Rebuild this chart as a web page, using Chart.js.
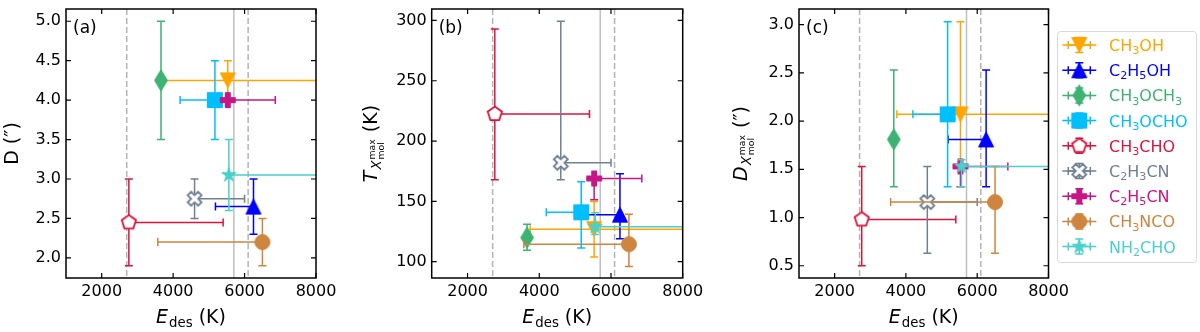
<!DOCTYPE html>
<html lang="en">
<head>
<meta charset="UTF-8">
<title>Desorption energy panels</title>
<script src="https://cdn.jsdelivr.net/npm/chart.js"></script>
<style>
  html, body { margin: 0; padding: 0; background: #fff; }
  #wrap { position: relative; width: 1200px; height: 332px; overflow: hidden; }
  .panel { position: absolute; top: 0; height: 332px; }
</style>
</head>
<body>
<div id="wrap">
  <div class="panel" style="left:0;width:340px"><canvas id="chartA"></canvas></div>
  <div class="panel" style="left:345px;width:365px"><canvas id="chartB"></canvas></div>
  <div class="panel" style="left:715px;width:485px"><canvas id="chartC"></canvas></div>
</div>
<script>
// molecules in plotting order ("_" = next char is a subscript)
const molecules = ['CH_3OH', 'C_2H_5OH', 'CH_3OCH_3', 'CH_3OCHO', 'CH_3CHO', 'C_2H_3CN', 'C_2H_5CN', 'CH_3NCO', 'NH_2CHO'];
const colors = ['#FFA500', '#0000FF', '#3CB371', '#00BFFF', '#DC143C', '#708090', '#C71585', '#CD853F', '#48D1CC'];
const markers = ['v', '^', 'd', 's', 'p', 'X', 'P', 'o', '*'];

// desorption energy (K) with lower / upper ends of its range
const edes = [5530, 6250, 3660, 5170, 2760, 4600, 5530, 6500, 5560];
const edesLow = [3745, 5185, 3660, 4195, 2760, 4600, 5530, 3570, 5560];
const edesHigh = [10000, 6250, 3660, 5170, 5400, 6000, 6860, 6500, 10000];

// (a) emission size D (arcsec)
const sizeD = [4.25, 2.65, 4.25, 4.0, 2.45, 2.75, 4.0, 2.2, 3.05];
const sizeDLow = [4.0, 2.3, 3.5, 3.5, 1.9, 2.5, 4.0, 1.9, 2.6];
const sizeDHigh = [4.5, 3.0, 5.0, 4.5, 3.0, 3.0, 4.0, 2.5, 3.5];

// (b) temperature at abundance peak (K)
const tempMax = [127, 139, 120, 141, 222.5, 182, 169, 114.5, 129];
const tempMaxLow = [104, 119, 109.5, 111.3, 168, 168, 151.4, 96, 122.5];
const tempMaxHigh = [150, 173, 131, 166.2, 293, 299.4, 169, 139.4, 140.5];

// (c) radius at abundance peak (arcsec)
const sizeMax = [2.07, 1.81, 1.81, 2.07, 0.98, 1.16, 1.53, 1.16, 1.53];
const sizeMaxLow = [1.53, 1.32, 1.32, 1.32, 0.5, 0.63, 1.32, 0.63, 1.32];
const sizeMaxHigh = [3.03, 2.53, 2.53, 3.03, 1.53, 1.53, 1.53, 1.53, 1.6];

// ticks and reference lines
const xTicks = [2000, 4000, 6000, 8000];
const yTicksA = [2.0, 2.5, 3.0, 3.5, 4.0, 4.5, 5.0];
const yTicksB = [100, 150, 200, 250, 300];
const yTicksC = [0.5, 1.0, 1.5, 2.0, 2.5, 3.0];
const refDashed = [2700, 6100];
const refSolid = [5700];

const FONT = "'DejaVu Sans', sans-serif";
Chart.defaults.font.family = FONT;
Chart.defaults.font.size = 16;
Chart.defaults.color = '#000';

function fontStr(size, italic) {
    return (italic ? 'italic ' : '') + size + 'px ' + FONT;
}

// split "CH_3OH" into text runs
function parseName(s) {
    const segs = [];
    for (let i = 0; i < s.length; i++) {
        if (s[i] === '_') { segs.push({ t: s[i + 1], sub: true }); i++; }
        else if (segs.length && !segs[segs.length - 1].sub) segs[segs.length - 1].t += s[i];
        else segs.push({ t: s[i] });
    }
    return segs;
}

function segSize(seg, size) {
    return seg.sub ? size * 0.7 : size * (seg.scale || 1);
}

function segWidth(ctx, seg, size) {
    if (seg.stack) {
        ctx.font = fontStr(size * seg.scale);
        return Math.max(...seg.stack.map(t => ctx.measureText(t).width)) + 1;
    }
    ctx.font = fontStr(segSize(seg, size), seg.it);
    return ctx.measureText(seg.t).width + (seg.it ? 1 : 0);
}

// draws text runs on a baseline at (x, y)
function drawRich(ctx, segs, x, y, size, align) {
    const widths = segs.map(s => segWidth(ctx, s, size));
    const total = widths.reduce((a, b) => a + b, 0);
    let cx = align === 'center' ? x - total / 2 : x;
    ctx.textAlign = 'left';
    ctx.textBaseline = 'alphabetic';
    segs.forEach((s, k) => {
        if (s.stack) {
            ctx.font = fontStr(size * s.scale);
            ctx.fillText(s.stack[0], cx, y + s.dy[0] * size);
            ctx.fillText(s.stack[1], cx, y + s.dy[1] * size);
        } else {
            ctx.font = fontStr(segSize(s, size), s.it);
            ctx.fillText(s.t, cx, y + (s.sub ? 0.2 * size : (s.dy || 0) * size));
        }
        cx += widths[k];
    });
}

// marker images (matplotlib-like shapes)
function makeMarker(type, color) {
    const S = 15;
    const h = S / 2;
    const c = document.createElement('canvas');
    c.width = 20;
    c.height = type === 'd' ? 26 : 20;
    const g = c.getContext('2d');
    g.translate(c.width / 2, c.height / 2);
    let pts = null;
    switch (type) {
        case 'v': pts = [[-h, -h], [h, -h], [0, h]]; break;
        case '^': pts = [[-h, h], [h, h], [0, -h]]; break;
        case 'd': pts = [[0, -10.6], [6.4, 0], [0, 10.6], [-6.4, 0]]; break;
        case 's': pts = [[-h, -h], [h, -h], [h, h], [-h, h]]; break;
        case 'p':
            pts = [];
            for (let k = 0; k < 5; k++) {
                const a = -Math.PI / 2 + k * 2 * Math.PI / 5;
                pts.push([h * Math.cos(a), h * Math.sin(a)]);
            }
            break;
        case 'X':
            pts = [[0.25, 0], [0.5, 0.25], [0.75, 0], [1, 0.25], [0.75, 0.5], [1, 0.75], [0.75, 1],
                   [0.5, 0.75], [0.25, 1], [0, 0.75], [0.25, 0.5], [0, 0.25]]
                .map(p => [(p[0] - 0.5) * 14, (p[1] - 0.5) * 14]);
            break;
        case 'P':
            pts = [[-1, -3], [1, -3], [1, -1], [3, -1], [3, 1], [1, 1], [1, 3], [-1, 3], [-1, 1], [-3, 1], [-3, -1], [-1, -1]]
                .map(p => [p[0] / 6 * S, p[1] / 6 * S]);
            break;
        case '*':
            pts = [];
            for (let k = 0; k < 10; k++) {
                const a = -Math.PI / 2 + k * Math.PI / 5;
                const r = k % 2 ? h * 0.381966 : h;
                pts.push([r * Math.cos(a), r * Math.sin(a)]);
            }
            break;
    }
    g.beginPath();
    if (type === 'o') g.arc(0, 0, h, 0, Math.PI * 2);
    else { pts.forEach((p, k) => k ? g.lineTo(p[0], p[1]) : g.moveTo(p[0], p[1])); g.closePath(); }
    const open = type === 'p' || type === 'X';
    g.fillStyle = open ? '#fff' : color;
    g.fill();
    g.strokeStyle = color;
    g.lineWidth = open ? 1.8 : 1;
    g.lineJoin = 'miter';
    g.stroke();
    return c;
}

const markerImgs = markers.map((m, i) => makeMarker(m, colors[i]));

function strokeErrors(ctx, px, py, pxl, pxh, pyl, pyh, cap) {
    ctx.beginPath();
    if (pxh - pxl > 0.5) { ctx.moveTo(pxl, py); ctx.lineTo(pxh, py); }
    if (pyl - pyh > 0.5) { ctx.moveTo(px, pyl); ctx.lineTo(px, pyh); }
    [pxl, pxh].forEach(p => { if (Math.abs(p - px) > 0.5) { ctx.moveTo(p, py - cap); ctx.lineTo(p, py + cap); } });
    [pyl, pyh].forEach(p => { if (Math.abs(p - py) > 0.5) { ctx.moveTo(px - cap, p); ctx.lineTo(px + cap, p); } });
    ctx.stroke();
}

function panelPlugin(cfg) {
    return {
        id: 'panel' + cfg.tag,
        beforeDatasetsDraw(chart) {
            const { ctx, chartArea: a, scales: { x } } = chart;
            ctx.save();
            ctx.beginPath();
            ctx.rect(a.left, a.top, a.right - a.left, a.bottom - a.top);
            ctx.clip();
            ctx.lineWidth = 1.5;
            refSolid.forEach(v => {
                const p = x.getPixelForValue(v);
                ctx.strokeStyle = '#bfbfbf';
                ctx.setLineDash([]);
                ctx.beginPath(); ctx.moveTo(p, a.top); ctx.lineTo(p, a.bottom); ctx.stroke();
            });
            refDashed.forEach(v => {
                const p = x.getPixelForValue(v);
                ctx.strokeStyle = '#b4b4b4';
                ctx.setLineDash([6, 3]);
                ctx.beginPath(); ctx.moveTo(p, a.top); ctx.lineTo(p, a.bottom); ctx.stroke();
            });
            ctx.restore();
        },
        beforeDatasetDraw(chart, args) {
            const { ctx, chartArea: a, scales: { x, y } } = chart;
            const ds = chart.data.datasets[args.index];
            const pt = ds.data[0];
            ctx.save();
            ctx.beginPath();
            ctx.rect(a.left, a.top, a.right - a.left, a.bottom - a.top);
            ctx.clip();
            ctx.strokeStyle = ds.errColor;
            ctx.lineWidth = 1.5;
            strokeErrors(ctx, x.getPixelForValue(pt.x), y.getPixelForValue(pt.y),
                x.getPixelForValue(ds.errX[0]), x.getPixelForValue(ds.errX[1]),
                y.getPixelForValue(ds.errY[0]), y.getPixelForValue(ds.errY[1]), 4);
            ctx.restore();
        },
        afterDraw(chart) {
            const { ctx, chartArea: a, scales: { x, y } } = chart;
            ctx.save();
            // frame and inward ticks on all four sides
            ctx.strokeStyle = '#000';
            ctx.lineWidth = 1.5;
            ctx.strokeRect(a.left, a.top, a.right - a.left, a.bottom - a.top);
            ctx.lineWidth = 1.2;
            ctx.beginPath();
            xTicks.forEach(v => {
                const p = x.getPixelForValue(v);
                ctx.moveTo(p, a.bottom); ctx.lineTo(p, a.bottom - 5);
                ctx.moveTo(p, a.top); ctx.lineTo(p, a.top + 5);
            });
            cfg.yTicks.forEach(v => {
                const p = y.getPixelForValue(v);
                ctx.moveTo(a.left, p); ctx.lineTo(a.left + 5, p);
                ctx.moveTo(a.right, p); ctx.lineTo(a.right - 5, p);
            });
            ctx.stroke();

            ctx.fillStyle = '#000';
            // panel label
            ctx.font = fontStr(17);
            ctx.textAlign = 'left';
            ctx.textBaseline = 'alphabetic';
            ctx.fillText(cfg.label, a.left + 7, a.top + 24);
            // x title
            drawRich(ctx, [{ t: 'E', it: true }, { t: 'des', sub: true }, { t: ' (K)' }],
                (a.left + a.right) / 2, 323, 19, 'center');
            // y title
            ctx.save();
            ctx.translate(cfg.yTitleX, (a.top + a.bottom) / 2);
            ctx.rotate(-Math.PI / 2);
            drawRich(ctx, cfg.yTitle, 0, 0, 19, 'center');
            ctx.restore();

            if (cfg.legend) drawLegend(ctx, cfg.legend);
            ctx.restore();
        }
    };
}

function drawLegend(ctx, L) {
    ctx.fillStyle = '#fff';
    ctx.strokeStyle = '#d9d9d9';
    ctx.lineWidth = 1;
    ctx.beginPath();
    ctx.roundRect(L.x, L.y, L.w, L.h, 3);
    ctx.fill();
    ctx.stroke();
    molecules.forEach((m, i) => {
        const cy = L.firstY + i * L.step;
        const mx = L.x + 21.8;
        ctx.strokeStyle = colors[i];
        ctx.lineWidth = 1.5;
        ctx.beginPath();
        ctx.moveTo(mx - 17, cy); ctx.lineTo(mx + 17, cy);
        ctx.stroke();
        strokeErrors(ctx, mx, cy, mx - 11, mx + 11, cy + 7.5, cy - 7.5, 4);
        const img = markerImgs[i];
        ctx.drawImage(img, mx - img.width / 2, cy - img.height / 2);
        ctx.fillStyle = colors[i];
        drawRich(ctx, parseName(m), L.x + 51.5, cy + 6, 16, 'left');
    });
}

function buildPanel(id, cfg) {
    const datasets = molecules.map((m, i) => ({
        label: m,
        data: [{ x: edes[i], y: cfg.values[i] }],
        pointStyle: markerImgs[i],
        pointRadius: 8,
        pointHoverRadius: 8,
        order: molecules.length - i,
        errColor: colors[i],
        errX: [edesLow[i], edesHigh[i]],
        errY: [cfg.low[i], cfg.high[i]]
    }));
    return new Chart(document.getElementById(id), {
        type: 'scatter',
        data: { datasets },
        options: {
            responsive: true,
            maintainAspectRatio: false,
            animation: false,
            events: [],
            layout: { padding: { left: 0, top: 3.3, right: cfg.padRight, bottom: 0 } },
            plugins: { legend: { display: false }, tooltip: { enabled: false } },
            scales: {
                x: {
                    type: 'linear', min: 1000, max: 8000,
                    grid: { display: false, drawTicks: false },
                    border: { display: false },
                    ticks: { padding: 4, font: { size: 16 }, color: '#000', callback: v => String(v) },
                    afterBuildTicks: s => { s.ticks = xTicks.map(v => ({ value: v })); },
                    afterFit: s => { s.height = 332 - 278; s.paddingLeft = 0; s.paddingRight = 0; }
                },
                y: {
                    type: 'linear', min: cfg.yMin, max: cfg.yMax,
                    grid: { display: false, drawTicks: false },
                    border: { display: false },
                    ticks: { padding: 5, font: { size: 16 }, color: '#000', callback: cfg.fmt },
                    afterBuildTicks: s => { s.ticks = cfg.yTicks.map(v => ({ value: v })); },
                    afterFit: s => { s.width = cfg.yWidth; s.paddingTop = 0; s.paddingBottom = 0; }
                }
            }
        },
        plugins: [panelPlugin(cfg)]
    });
}

const xtWithMax = [{ stack: ['max', 'mol'], scale: 0.49, dy: [-0.12, 0.36] }];

buildPanel('chartA', {
    tag: 'A', label: '(a)',
    values: sizeD, low: sizeDLow, high: sizeDHigh,
    yMin: 1.745, yMax: 5.155, yTicks: yTicksA, fmt: v => v.toFixed(1),
    yWidth: 66, padRight: 340 - 316,
    yTitleX: 18,
    yTitle: [{ t: 'D (\u2033)' }]
});

buildPanel('chartB', {
    tag: 'B', label: '(b)',
    values: tempMax, low: tempMaxLow, high: tempMaxHigh,
    yMin: 86.5, yMax: 309.5, yTicks: yTicksB, fmt: v => String(v),
    yWidth: 431.7 - 345, padRight: 710 - 682.7,
    yTitleX: 377 - 345,
    yTitle: [{ t: 'T', it: true }, { t: 'X', it: true, sub: true }, ...xtWithMax, { t: ' (K)' }]
});

buildPanel('chartC', {
    tag: 'C', label: '(c)',
    values: sizeMax, low: sizeMaxLow, high: sizeMaxHigh,
    yMin: 0.373, yMax: 3.162, yTicks: yTicksC, fmt: v => v.toFixed(1),
    yWidth: 799 - 715, padRight: 1200 - 1048.5,
    yTitleX: 747 - 715,
    yTitle: [{ t: 'D', it: true }, { t: 'X', it: true, sub: true }, ...xtWithMax, { t: ' (\u2033)' }],
    legend: { x: 1057.5 - 715, y: 31.5, w: 139, h: 231, firstY: 45, step: 25.2 }
});
</script>
</body>
</html>
